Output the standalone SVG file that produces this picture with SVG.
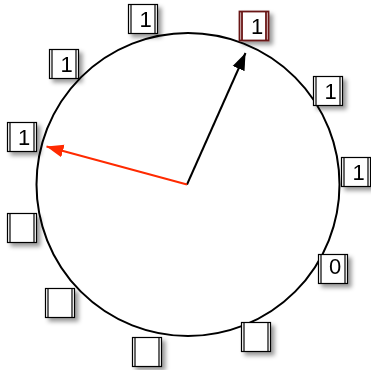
<svg xmlns="http://www.w3.org/2000/svg" width="371" height="370" viewBox="0 0 371 370">
<style>
.box rect{fill:#fff;stroke:#000;stroke-width:1.2}
.box line{stroke:#000;stroke-width:1.2}
.red rect,.red line{stroke:#6a1414;stroke-width:1.8}
.box text{font-family:"Liberation Sans",Arial,sans-serif;font-size:22px;fill:#000;text-anchor:middle}
.box{filter:url(#sh)}
</style>
<defs>
<filter id="sh" x="-30%" y="-30%" width="170%" height="170%">
<feDropShadow dx="3.5" dy="3.5" stdDeviation="2" flood-color="#000" flood-opacity="0.4"/>
</filter>
<marker id="ab" markerUnits="userSpaceOnUse" markerWidth="18" markerHeight="14" refX="17" refY="7" orient="auto" viewBox="0 0 18 14">
<path d="M0,0.5 L17,7 L0,13.5 z" fill="#000"/>
</marker>
<marker id="ar" markerUnits="userSpaceOnUse" markerWidth="18" markerHeight="14" refX="17" refY="7" orient="auto" viewBox="0 0 18 14">
<path d="M0,0.5 L17,7 L0,13.5 z" fill="#ff2a00"/>
</marker>
</defs>
<circle id="ring" cx="188" cy="184.5" r="151.5" fill="none" stroke="#000" stroke-width="2"/>
<g id="n1" class="box" transform="translate(128,4)"><rect x="0.5" y="0.5" width="29" height="29"/><line x1="3" y1="0.5" x2="3" y2="29.5"/><line x1="27" y1="0.5" x2="27" y2="29.5"/><text x="17.5" y="22.5">1</text></g>
<g id="n2" class="box red" transform="translate(239,11)"><rect x="0.5" y="0.5" width="29" height="29"/><line x1="3" y1="0.5" x2="3" y2="29.5"/><line x1="27" y1="0.5" x2="27" y2="29.5"/><text x="18" y="22.5">1</text></g>
<g id="n3" class="box" transform="translate(313,76)"><rect x="0.5" y="0.5" width="29" height="29"/><line x1="3" y1="0.5" x2="3" y2="29.5"/><line x1="27" y1="0.5" x2="27" y2="29.5"/><text x="17.5" y="22.5">1</text></g>
<g id="n4" class="box" transform="translate(341,157)"><rect x="0.5" y="0.5" width="29" height="29"/><line x1="3" y1="0.5" x2="3" y2="29.5"/><line x1="27" y1="0.5" x2="27" y2="29.5"/><text x="17.5" y="22.5">1</text></g>
<g id="n5" class="box" transform="translate(318,254)"><rect x="0.5" y="0.5" width="29" height="29"/><line x1="3" y1="0.5" x2="3" y2="29.5"/><line x1="27" y1="0.5" x2="27" y2="29.5"/><text x="17" y="20">0</text></g>
<g id="n6" class="box" transform="translate(241,322)"><rect x="0.5" y="0.5" width="29" height="29"/><line x1="3" y1="0.5" x2="3" y2="29.5"/><line x1="27" y1="0.5" x2="27" y2="29.5"/></g>
<g id="n7" class="box" transform="translate(132,337)"><rect x="0.5" y="0.5" width="29" height="29"/><line x1="3" y1="0.5" x2="3" y2="29.5"/><line x1="27" y1="0.5" x2="27" y2="29.5"/></g>
<g id="n8" class="box" transform="translate(45,288)"><rect x="0.5" y="0.5" width="29" height="29"/><line x1="3" y1="0.5" x2="3" y2="29.5"/><line x1="27" y1="0.5" x2="27" y2="29.5"/></g>
<g id="n9" class="box" transform="translate(7,213)"><rect x="0.5" y="0.5" width="29" height="29"/><line x1="3" y1="0.5" x2="3" y2="29.5"/><line x1="27" y1="0.5" x2="27" y2="29.5"/></g>
<g id="n10" class="box" transform="translate(7,122)"><rect x="0.5" y="0.5" width="29" height="29"/><line x1="3" y1="0.5" x2="3" y2="29.5"/><line x1="27" y1="0.5" x2="27" y2="29.5"/><text x="17" y="22.5">1</text></g>
<g id="n11" class="box" transform="translate(49,49)"><rect x="0.5" y="0.5" width="29" height="29"/><line x1="3" y1="0.5" x2="3" y2="29.5"/><line x1="27" y1="0.5" x2="27" y2="29.5"/><text x="17.5" y="22.5">1</text></g>
<g id="connectors" fill="none" stroke-width="2">
<line x1="187" y1="184.5" x2="245.5" y2="53" stroke="#000" marker-end="url(#ab)"/>
<line x1="187" y1="184.5" x2="46.5" y2="146.5" stroke="#ff2a00" marker-end="url(#ar)"/>
</g>
</svg>
